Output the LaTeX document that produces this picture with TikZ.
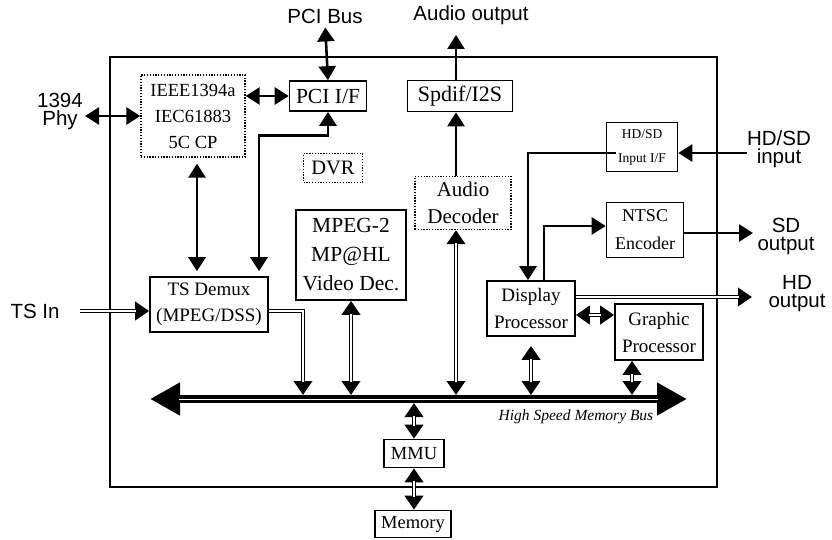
\documentclass[tikz,border=0pt]{standalone}
\usepackage{fontspec}
\setmainfont{Liberation Serif}
\newfontfamily\labfont{Liberation Sans}
\usetikzlibrary{arrows.meta}
\definecolor{ink}{HTML}{000000}

\tikzset{
  blk/.style={draw=ink, line width=1.6pt, inner sep=0pt, align=center},
  dblk/.style={blk, line width=1.3pt, dash pattern=on 1.3pt off 1.5pt},
  lbl/.style={font=\labfont\fontsize{20.5}{18}\selectfont, align=center, inner sep=0pt},
  arr1/.style={draw=ink, line width=2.6pt, -{Triangle[length=14pt,width=17pt]}},
  arr2/.style={draw=ink, line width=2.6pt, {Triangle[length=14pt,width=17pt]}-{Triangle[length=14pt,width=17pt]}},
  pipe1/.style={draw=ink, line width=4.2pt, -{Triangle[length=14pt,width=18pt]},
    postaction={draw=white, line width=1.4pt, -, shorten >=13pt}},
  pipe2/.style={draw=ink, line width=4.2pt, {Triangle[length=14pt,width=18pt]}-{Triangle[length=14pt,width=18pt]},
    postaction={draw=white, line width=1.4pt, -, shorten >=13pt, shorten <=13pt}},
  bus/.style={draw=ink, line width=7.5pt, {Triangle[length=30pt,width=31pt]}-{Triangle[length=30pt,width=31pt]},
    postaction={draw=white, line width=1pt, -, shorten >=29pt, shorten <=29pt}},
}

\begin{document}
\begin{tikzpicture}[x=1pt, y=-1pt]
        \useasboundingbox (0,0) rectangle (832,540);
        % chip frame
        \draw[ink, line width=2pt] (110,57) rectangle (717,487);
        % blocks
        \node[dblk, minimum width=104pt, minimum height=82pt, font=\fontsize{18.5}{26}\selectfont] (ieee) at (193,116) {IEEE1394a\\IEC61883\\5C CP};
        \node[blk, minimum width=77pt, minimum height=30pt, font=\fontsize{21.5}{24}\selectfont] (pcif) at (328,96) {PCI I/F};
        \node[blk, minimum width=105pt, minimum height=31pt, font=\fontsize{22}{24}\selectfont] (spdif) at (460,96) {Spdif/I2S};
        \node[dblk, minimum width=59pt, minimum height=29pt, font=\fontsize{20.5}{24}\selectfont] (dvr) at (333,168) {DVR};
        \node[dblk, minimum width=96pt, minimum height=53pt, font=\fontsize{21}{27}\selectfont] (audio) at (463,203) {Audio\\Decoder};
        \node[blk, minimum width=71pt, minimum height=49pt, font=\fontsize{13.5}{24}\selectfont] (hdin) at (642,147) {HD/SD\\Input I/F};
        \node[blk, minimum width=77pt, minimum height=55pt, font=\fontsize{18}{28}\selectfont] (ntsc) at (645,230) {NTSC\\Encoder};
        \node[blk, minimum width=110pt, minimum height=90pt, font=\fontsize{21.5}{29}\selectfont] (mpeg) at (351,255) {MPEG-2\\MP@HL\\Video Dec.};
        \node[blk, minimum width=118pt, minimum height=55pt, font=\fontsize{19}{26}\selectfont] (demux) at (209,304.5) {TS Demux\\(MPEG/DSS)};
        \node[blk, minimum width=88pt, minimum height=55pt, font=\fontsize{19}{27}\selectfont] (disp) at (531,308.5) {Display\\Processor};
        \node[blk, minimum width=88pt, minimum height=56pt, font=\fontsize{19}{27}\selectfont] (gfx) at (659,332) {Graphic\\Processor};
        \node[blk, minimum width=60pt, minimum height=28pt, font=\fontsize{18.5}{24}\selectfont] (mmu) at (414,453.5) {MMU};
        \node[blk, minimum width=76pt, minimum height=27pt, font=\fontsize{18.5}{24}\selectfont] (mem) at (413,524) {Memory};
        % outside labels
        \node[lbl] (pcibus) at (325,16) {PCI Bus};
        \node[lbl] (audout) at (471,15) {Audio output};
        \node[lbl] (phy) at (60,111) {1394\\Phy};
        \node[lbl] (hdsdin) at (779,149) {HD/SD\\input};
        \node[lbl] (sdout) at (786,236) {SD\\output};
        \node[lbl] (hdout) at (797,294) {HD\\output};
        \node[lbl] (tsin) at (35,311) {TS In};
        % memory bus
        \coordinate (busL) at (150,399);
        \coordinate (busR) at (687,399);
        \coordinate (bt) at (0,395);
        \coordinate (bb) at (0,403);
        \draw[bus] (busL) -- (busR);
        \node[font=\itshape\fontsize{15.5}{15}\selectfont, inner sep=0pt] (busl) at (576,417) {High Speed Memory Bus};
        % connectors
        \coordinate (aout) at (456,35);
        \coordinate (tsbeg) at (80,311);
        \coordinate (tsbus) at (303,395);
        \coordinate (hdend) at (752,297);
        \coordinate (sdend) at (753,233);
        \coordinate (phyE) at (85,116);
        \coordinate (hdinE) at ([yshift=-6pt]hdin.east);
        \draw[arr2, shorten <=4pt] (pcibus.south) -- (pcif.north);
        \draw[arr2] (phyE) -- (ieee.west |- phyE);
        \draw[arr2] (ieee.east |- pcif.west) -- (pcif.west);
        \draw[arr2, shorten <=6pt, shorten >=5pt] ([xshift=4pt]ieee.south) -- ([xshift=4pt]ieee.south |- demux.north);
        \draw[arr2, shorten >=5pt] (pcif.south) -- ++(0,24) -| ([xshift=50pt]demux.north);
        \draw[arr1] (spdif.north -| aout) -- (aout);
        \draw[arr1] (audio.north -| aout) -- (spdif.south -| aout);
        \draw[pipe2] (audio.south -| aout) -- (aout |- bt);
        \draw[pipe1] (tsbeg) -- (demux.west |- tsbeg);
        \draw[pipe1] (demux.east |- tsbeg) -| (tsbus);
        \draw[pipe2] (mpeg.south) -- (mpeg.south |- bt);
        \draw[arr1] (hdsdin.west |- hdinE) -- (hdinE);
        \draw[arr1] ([shift={(10pt,-6pt)}]hdin.west) -| ([xshift=-3pt]disp.north);
        \draw[arr1] ([xshift=13pt]disp.north) |- ([yshift=4pt]ntsc.west);
        \draw[arr1] (ntsc.east |- sdend) -- (sdend);
        \draw[pipe1] (disp.east |- hdend) -- (hdend);
        \draw[pipe2] ([yshift=-6.5pt]disp.east) -- ([yshift=-6.5pt]disp.east -| gfx.west);
        \draw[pipe2] ([yshift=-9pt]disp.south) -- (disp.south |- bt);
        \draw[pipe2] ([xshift=-27pt]gfx.south) -- ([xshift=-27pt]gfx.south |- bt);
        \draw[pipe2] (mmu.north |- bb) -- (mmu.north);
        \draw[pipe2] (mmu.south) -- (mem.north -| mmu.south);
\end{tikzpicture}
\end{document}
